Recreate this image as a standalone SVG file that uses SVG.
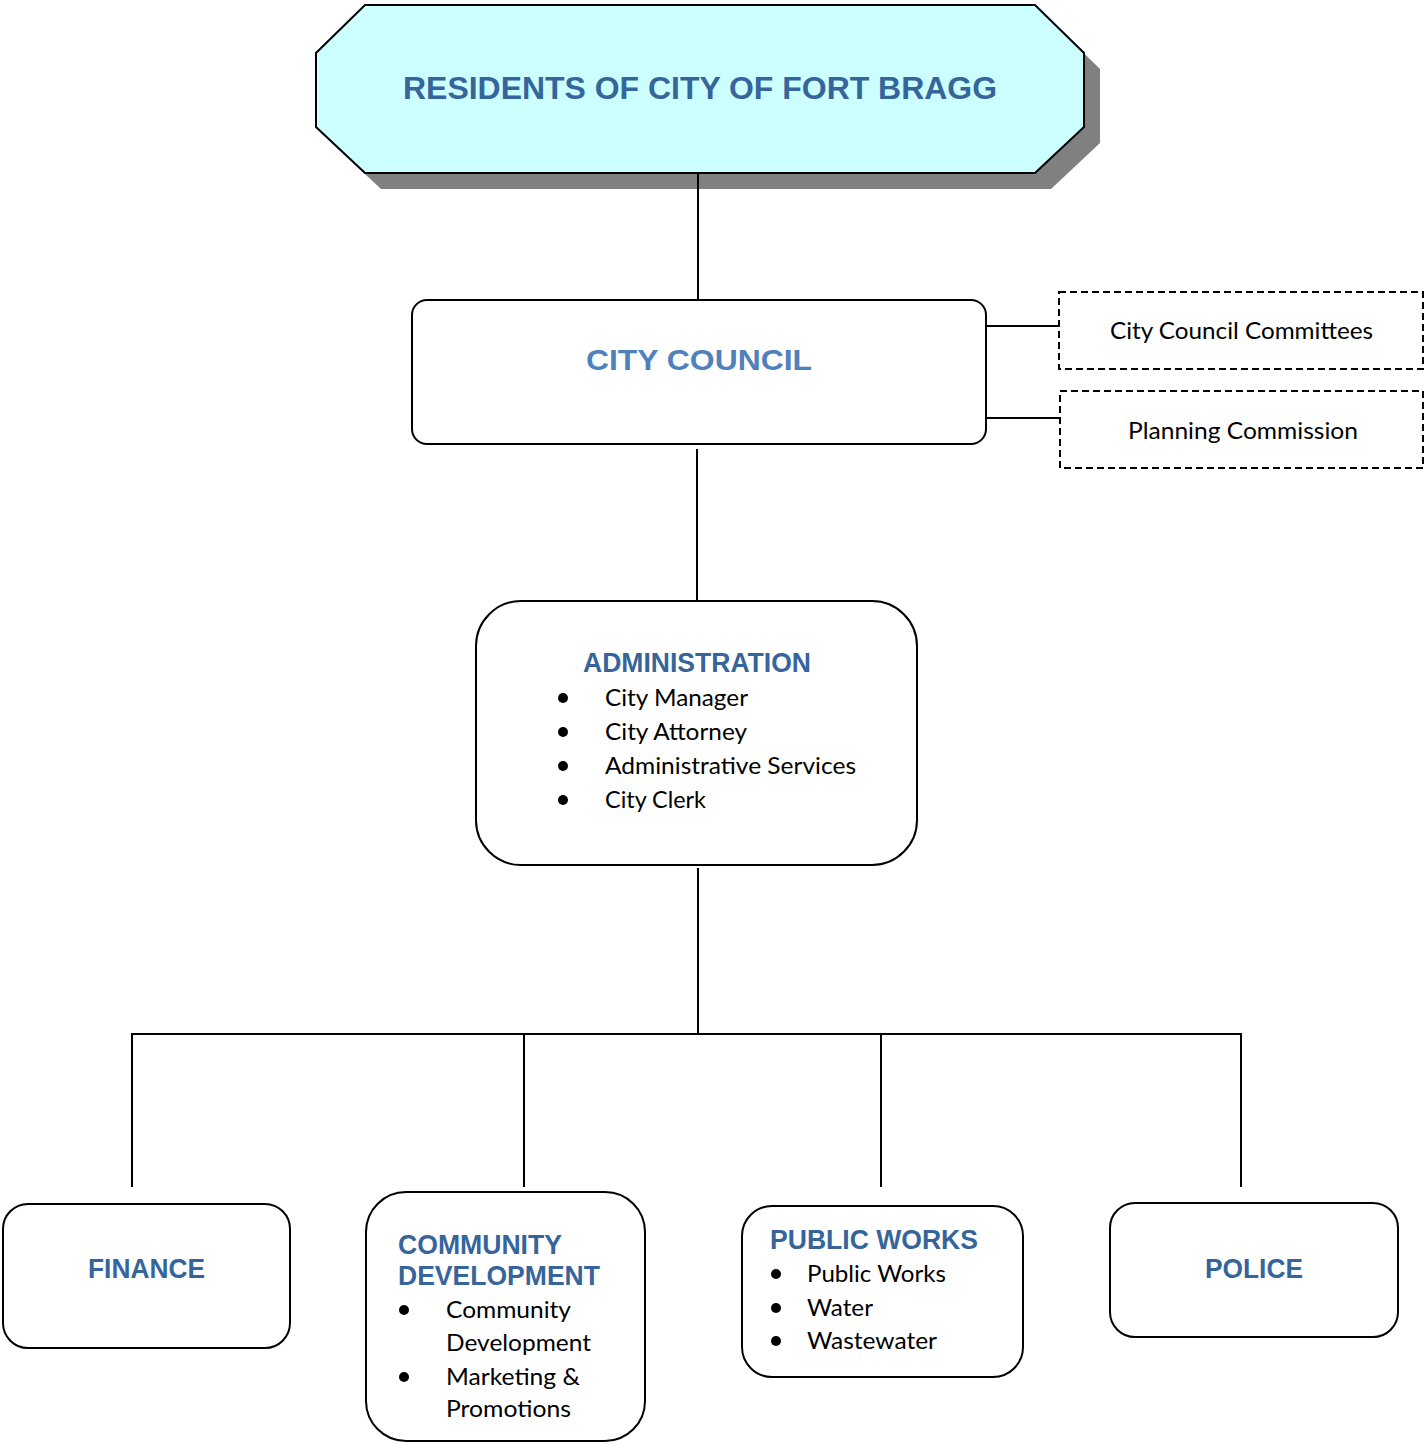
<svg xmlns="http://www.w3.org/2000/svg" width="1426" height="1442" viewBox="0 0 1426 1442">
<style>
.box{fill:#fff;stroke:#000;stroke-width:2}
.dash{fill:#fff;stroke:#000;stroke-width:2;stroke-dasharray:7 4}
.conn{stroke:#000;stroke-width:2;fill:none}
.h{font-family:"Liberation Sans",Arial,sans-serif;font-weight:bold;fill:#35659B}
.b{font-family:Lato,"Open Sans",sans-serif;font-size:24px;fill:#000}
.dot{fill:#000}
</style>
<rect width="1426" height="1442" fill="#fff"/>
<g id="residents">
<polygon points="381,21 1051,21 1100,69 1100,143 1051,189 381,189 332,143 332,69" fill="#808080"/>
<polygon points="365,5 1035,5 1084,53 1084,127 1035,173 365,173 316,127 316,53" fill="#CCFFFF" stroke="#000" stroke-width="2"/>
<text class="h" x="700" y="99" font-size="32" text-anchor="middle" textLength="594" lengthAdjust="spacingAndGlyphs">RESIDENTS OF CITY OF FORT BRAGG</text>
</g>
<g id="connectors">
<line class="conn" x1="698" y1="173" x2="698" y2="301"/>
<line class="conn" x1="986" y1="326" x2="1059" y2="326"/>
<line class="conn" x1="986" y1="418" x2="1060" y2="418"/>
<line class="conn" x1="697" y1="449" x2="697" y2="602"/>
<line class="conn" x1="698" y1="868" x2="698" y2="1034"/>
<line class="conn" x1="131" y1="1034" x2="1242" y2="1034"/>
<line class="conn" x1="132" y1="1033" x2="132" y2="1187"/>
<line class="conn" x1="524" y1="1034" x2="524" y2="1187"/>
<line class="conn" x1="881" y1="1034" x2="881" y2="1187"/>
<line class="conn" x1="1241" y1="1033" x2="1241" y2="1187"/>
</g>
<g id="city-council">
<rect class="box" x="412" y="300" width="574" height="144" rx="15"/>
<text class="h" x="699" y="370" font-size="30" text-anchor="middle" style="fill:#4F81BD" textLength="226" lengthAdjust="spacingAndGlyphs">CITY COUNCIL</text>
</g>
<g id="committees">
<rect class="dash" x="1059" y="292" width="364" height="77"/>
<text class="b" x="1110" y="339" textLength="263" lengthAdjust="spacingAndGlyphs">City Council Committees</text>
</g>
<g id="planning">
<rect class="dash" x="1060" y="391" width="363" height="77"/>
<text class="b" x="1128" y="439" textLength="230" lengthAdjust="spacingAndGlyphs">Planning Commission</text>
</g>
<g id="administration">
<rect class="box" x="476" y="601" width="441" height="264" rx="45"/>
<text class="h" x="583" y="672" font-size="27" textLength="228" lengthAdjust="spacingAndGlyphs">ADMINISTRATION</text>
<circle class="dot" cx="563" cy="698" r="5"/>
<circle class="dot" cx="563" cy="732" r="5"/>
<circle class="dot" cx="563" cy="766" r="5"/>
<circle class="dot" cx="563" cy="800" r="5"/>
<text class="b" x="605" y="706" textLength="143" lengthAdjust="spacingAndGlyphs">City Manager</text>
<text class="b" x="605" y="740" textLength="142" lengthAdjust="spacingAndGlyphs">City Attorney</text>
<text class="b" x="605" y="774" textLength="251" lengthAdjust="spacingAndGlyphs">Administrative Services</text>
<text class="b" x="605" y="808" textLength="101" lengthAdjust="spacingAndGlyphs">City Clerk</text>
</g>
<g id="finance">
<rect class="box" x="3" y="1204" width="287" height="144" rx="25"/>
<text class="h" x="88" y="1278" font-size="27" textLength="117" lengthAdjust="spacingAndGlyphs">FINANCE</text>
</g>
<g id="community-development">
<rect class="box" x="366" y="1192" width="279" height="249" rx="40"/>
<text class="h" x="398" y="1254" font-size="27" textLength="164" lengthAdjust="spacingAndGlyphs">COMMUNITY</text>
<text class="h" x="398" y="1285" font-size="27" textLength="202" lengthAdjust="spacingAndGlyphs">DEVELOPMENT</text>
<circle class="dot" cx="404" cy="1310" r="5"/>
<circle class="dot" cx="404" cy="1377" r="5"/>
<text class="b" x="446" y="1318" textLength="125" lengthAdjust="spacingAndGlyphs">Community</text>
<text class="b" x="446" y="1351" textLength="145" lengthAdjust="spacingAndGlyphs">Development</text>
<text class="b" x="446" y="1385" textLength="134" lengthAdjust="spacingAndGlyphs">Marketing &amp;</text>
<text class="b" x="446" y="1417" textLength="125" lengthAdjust="spacingAndGlyphs">Promotions</text>
</g>
<g id="public-works">
<rect class="box" x="742" y="1206" width="281" height="171" rx="30"/>
<text class="h" x="770" y="1249" font-size="27" textLength="208" lengthAdjust="spacingAndGlyphs">PUBLIC WORKS</text>
<circle class="dot" cx="776" cy="1274" r="5"/>
<circle class="dot" cx="776" cy="1308" r="5"/>
<circle class="dot" cx="776" cy="1341" r="5"/>
<text class="b" x="807" y="1282" textLength="139" lengthAdjust="spacingAndGlyphs">Public Works</text>
<text class="b" x="807" y="1316" textLength="66" lengthAdjust="spacingAndGlyphs">Water</text>
<text class="b" x="807" y="1349" textLength="130" lengthAdjust="spacingAndGlyphs">Wastewater</text>
</g>
<g id="police">
<rect class="box" x="1110" y="1203" width="288" height="134" rx="25"/>
<text class="h" x="1205" y="1278" font-size="27" textLength="98" lengthAdjust="spacingAndGlyphs">POLICE</text>
</g>
</svg>
